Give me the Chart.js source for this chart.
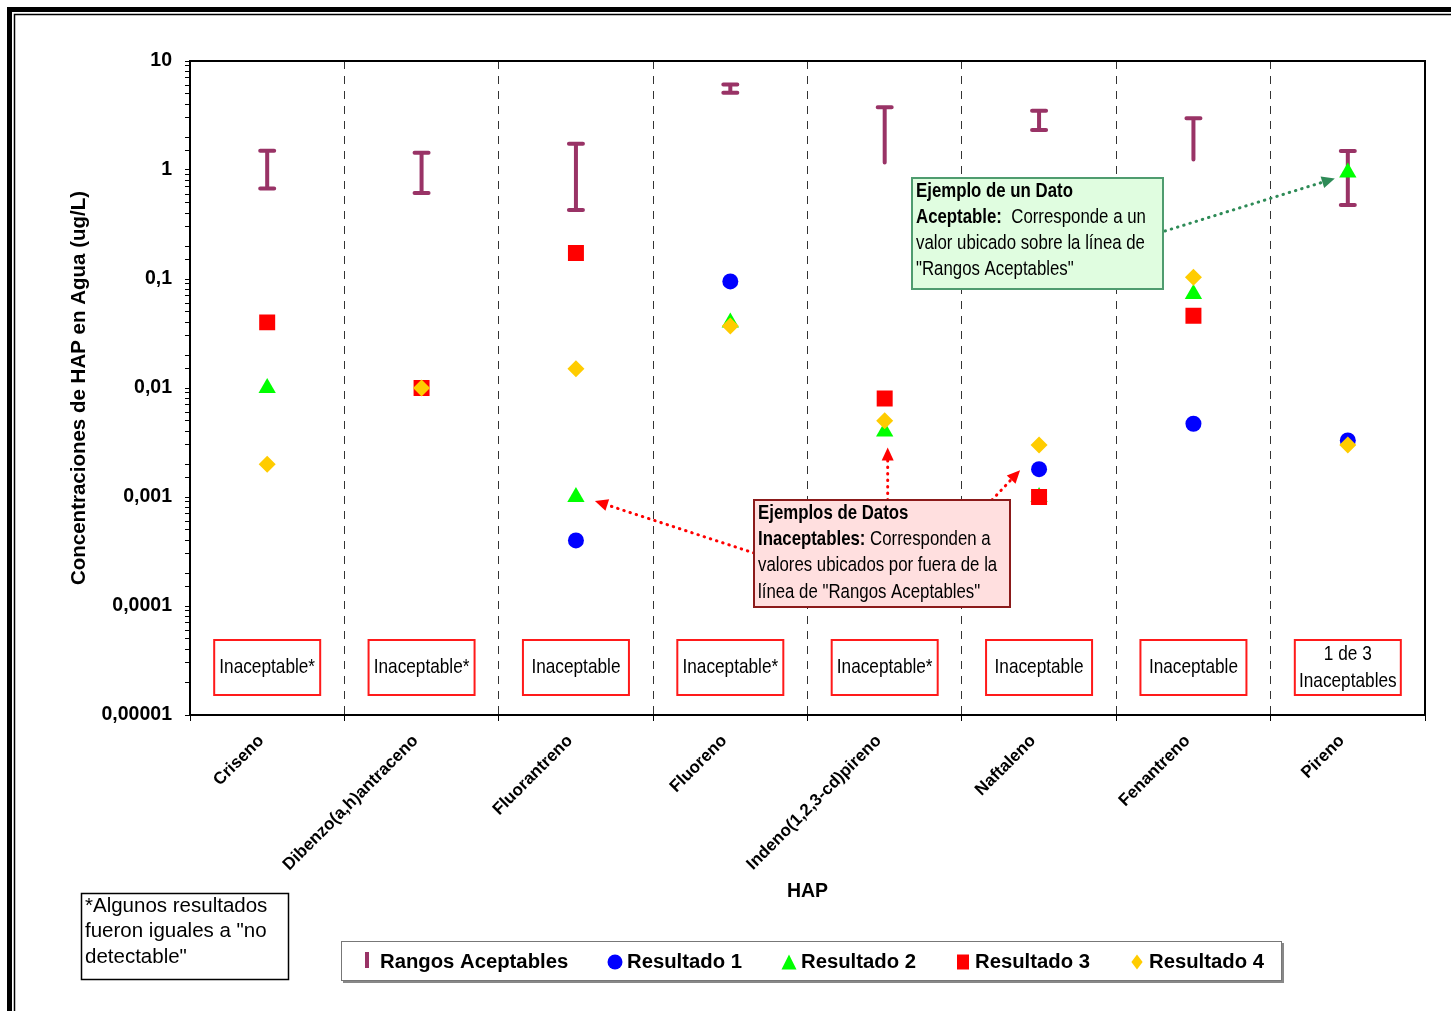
<!DOCTYPE html>
<html>
<head>
<meta charset="utf-8">
<title>Concentraciones de HAP en Agua</title>
<script src="https://cdn.jsdelivr.net/npm/chart.js@4.4.1/dist/chart.umd.min.js"></script>
<style>
    html, body { margin: 0; padding: 0; background: #fff; }
    #grafico { display: block; }
</style>
</head>
<body>
<canvas id="grafico" width="1451" height="1011"></canvas>
<script>
// --- Datos ---
const categorias = ["Criseno", "Dibenzo(a,h)antraceno", "Fluorantreno", "Fluoreno",
    "Indeno(1,2,3-cd)pireno", "Naftaleno", "Fenantreno", "Pireno"];

// Rangos aceptables (límite superior / inferior)
const rangoMax = [1.5, 1.44, 1.74, 6.1, 3.76, 3.5, 2.98, 1.49];
const rangoMin = [0.675, 0.615, 0.43, 5.12, 1.17, 2.33, 1.25, 0.477];

const resultado1 = [null, null, 0.0004, 0.095, null, 0.0018, 0.0047, 0.0033];
const resultado2 = [0.01, null, 0.001, 0.04, 0.004, 0.001, 0.073, 0.95];
const resultado3 = [0.04, 0.01, 0.173, null, 0.008, 0.001, 0.046, null];
const resultado4 = [0.002, 0.01, 0.015, 0.037, 0.005, 0.003, 0.104, 0.003];

const decadas = [0.00001, 0.0001, 0.001, 0.01, 0.1, 1, 10];
const etiquetasEje = ["0,00001", "0,0001", "0,001", "0,01", "0,1", "1", "10"];

const evaluaciones = [["Inaceptable*"], ["Inaceptable*"], ["Inaceptable"], ["Inaceptable*"],
    ["Inaceptable*"], ["Inaceptable"], ["Inaceptable"], ["1 de 3", "Inaceptables"]];

const nombreRangos = "Rangos Aceptables";
const tituloY = "Concentraciones de HAP en Agua (ug/L)";
const tituloX = "HAP";
const notaPie = ["*Algunos resultados", "fueron iguales a \"no", "detectable\""];

// barras sin tapa inferior en el original
const sinTapaInferior = ["Indeno(1,2,3-cd)pireno", "Fenantreno"];

const FUENTE = '"Liberation Sans", Arial, sans-serif';
const COLOR_RANGO = "#993366";

// --- Helpers de texto ---
function texto(ctx, txt, x, y, size, bold, align, escala) {
    ctx.save();
    ctx.font = (bold ? "bold " : "") + size + "px " + FUENTE;
    ctx.translate(x, y);
    ctx.scale(escala || 1, 1);
    ctx.textAlign = align || "left";
    ctx.textBaseline = "middle";
    ctx.fillStyle = "#000";
    ctx.fillText(txt, 0, 0);
    const w = ctx.measureText(txt).width * (escala || 1);
    ctx.restore();
    return w;
}

function flecha(ctx, x1, y1, x2, y2, color) {
    const ang = Math.atan2(y2 - y1, x2 - x1);
    const largo = 13;
    ctx.save();
    ctx.strokeStyle = color;
    ctx.fillStyle = color;
    ctx.lineWidth = 3;
    ctx.lineCap = "round";
    ctx.setLineDash([0.5, 6]);
    ctx.beginPath();
    ctx.moveTo(x1, y1);
    ctx.lineTo(x2 - Math.cos(ang) * largo, y2 - Math.sin(ang) * largo);
    ctx.stroke();
    ctx.setLineDash([]);
    ctx.beginPath();
    ctx.moveTo(x2, y2);
    ctx.lineTo(x2 - Math.cos(ang) * largo - Math.sin(ang) * 6, y2 - Math.sin(ang) * largo + Math.cos(ang) * 6);
    ctx.lineTo(x2 - Math.cos(ang) * largo + Math.sin(ang) * 6, y2 - Math.sin(ang) * largo - Math.cos(ang) * 6);
    ctx.closePath();
    ctx.fill();
    ctx.restore();
}

function marcador(ctx, estilo, color, x, y, r) {
    ctx.save();
    ctx.fillStyle = color;
    ctx.beginPath();
    if (estilo === "circle") {
        ctx.arc(x, y, r, 0, Math.PI * 2);
    } else if (estilo === "triangle") {
        ctx.moveTo(x, y - r);
        ctx.lineTo(x + r, y + r);
        ctx.lineTo(x - r, y + r);
    } else if (estilo === "rect") {
        ctx.rect(x - r * 0.8, y - r, r * 1.6, r * 2);
    } else if (estilo === "rectRot") {
        ctx.moveTo(x, y - r);
        ctx.lineTo(x + r * 0.75, y);
        ctx.lineTo(x, y + r);
        ctx.lineTo(x - r * 0.75, y);
    }
    ctx.closePath();
    ctx.fill();
    ctx.restore();
}

// --- Plugin de dibujo ---
const dibujoExtra = {
    id: "dibujoExtra",
    beforeDraw(chart) {
        const ctx = chart.ctx;
        ctx.save();
        ctx.fillStyle = "#fff";
        ctx.fillRect(0, 0, chart.width, chart.height);
        // marco doble exterior
        ctx.strokeStyle = "#000";
        ctx.lineWidth = 5;
        ctx.beginPath();
        ctx.moveTo(9.5, chart.height);
        ctx.lineTo(9.5, 9.5);
        ctx.lineTo(chart.width, 9.5);
        ctx.stroke();
        ctx.lineWidth = 1.5;
        ctx.beginPath();
        ctx.moveTo(14.5, chart.height);
        ctx.lineTo(14.5, 14.5);
        ctx.lineTo(chart.width, 14.5);
        ctx.stroke();
        ctx.restore();
    },
    beforeDatasetsDraw(chart) {
        const ctx = chart.ctx;
        const xs = chart.scales.x, ys = chart.scales.y;
        ctx.save();
        ctx.strokeStyle = COLOR_RANGO;
        ctx.lineWidth = 4;
        ctx.lineCap = "round";
        categorias.forEach((c, i) => {
            const x = xs.getPixelForValue(i);
            const y1 = ys.getPixelForValue(rangoMax[i]);
            const y2 = ys.getPixelForValue(rangoMin[i]);
            ctx.beginPath();
            ctx.moveTo(x, y1);
            ctx.lineTo(x, y2);
            ctx.moveTo(x - 7, y1);
            ctx.lineTo(x + 7, y1);
            if (!sinTapaInferior.includes(c)) {
                ctx.moveTo(x - 7, y2);
                ctx.lineTo(x + 7, y2);
            }
            ctx.stroke();
        });
        ctx.restore();
    },
    afterDraw(chart) {
        const ctx = chart.ctx;
        const a = chart.chartArea;
        const xs = chart.scales.x, ys = chart.scales.y;
        const px = (i) => xs.getPixelForValue(i);
        const py = (v) => ys.getPixelForValue(v);

        // borde superior y derecho del área de trazado
        ctx.save();
        ctx.strokeStyle = "#000";
        ctx.lineWidth = 2;
        ctx.beginPath();
        ctx.moveTo(a.left, a.top);
        ctx.lineTo(a.right, a.top);
        ctx.lineTo(a.right, a.bottom);
        ctx.stroke();
        ctx.restore();

        // títulos de ejes
        ctx.save();
        ctx.translate(79, (a.top + a.bottom) / 2);
        ctx.rotate(-Math.PI / 2);
        texto(ctx, tituloY, 0, 0, 20.5, true, "center");
        ctx.restore();
        texto(ctx, tituloX, (a.left + a.right) / 2, 892, 19.5, true, "center");

        // cuadros "Inaceptable"
        evaluaciones.forEach((lineas, i) => {
            const cx = px(i);
            ctx.save();
            ctx.fillStyle = "#fff";
            ctx.strokeStyle = "#ff1a1a";
            ctx.lineWidth = 2;
            ctx.fillRect(cx - 53, 640, 106, 55);
            ctx.strokeRect(cx - 53, 640, 106, 55);
            ctx.restore();
            if (lineas.length === 1) {
                texto(ctx, lineas[0], cx, 667, 21, false, "center", 0.82);
            } else {
                texto(ctx, lineas[0], cx, 654, 21, false, "center", 0.82);
                texto(ctx, lineas[1], cx, 681, 21, false, "center", 0.82);
            }
        });

        // flechas
        const iPir = categorias.indexOf("Pireno");
        flecha(ctx, 1165, 231, px(iPir) - 13, py(resultado2[iPir]) + 6, "#2e8b57");
        const iFlu = categorias.indexOf("Fluorantreno");
        flecha(ctx, 754, 553, px(iFlu) + 19, py(resultado2[iFlu]) + 4, "#ff0000");
        const iInd = categorias.indexOf("Indeno(1,2,3-cd)pireno");
        flecha(ctx, px(iInd) + 3, 500, px(iInd) + 3, py(resultado2[iInd]) + 16, "#ff0000");
        const iNaf = categorias.indexOf("Naftaleno");
        flecha(ctx, 992, 500, px(iNaf) - 19, py(resultado1[iNaf]) + 1, "#ff0000");

        // cuadro verde
        ctx.save();
        ctx.fillStyle = "#e0fde0";
        ctx.strokeStyle = "#4f9c6f";
        ctx.lineWidth = 2;
        ctx.fillRect(912, 178, 251, 111);
        ctx.strokeRect(912, 178, 251, 111);
        ctx.restore();
        texto(ctx, "Ejemplo de un Dato", 916, 191, 20.5, true, "left", 0.82);
        let w = texto(ctx, "Aceptable:", 916, 217, 20.5, true, "left", 0.82);
        texto(ctx, "  Corresponde a un", 916 + w, 217, 20.5, false, "left", 0.82);
        texto(ctx, "valor ubicado sobre la línea de", 916, 243, 20.5, false, "left", 0.82);
        texto(ctx, "\"Rangos Aceptables\"", 916, 269, 20.5, false, "left", 0.82);

        // cuadro rojo
        ctx.save();
        ctx.fillStyle = "#ffdfdf";
        ctx.strokeStyle = "#8b1a1a";
        ctx.lineWidth = 2;
        ctx.fillRect(754, 500, 256, 107);
        ctx.strokeRect(754, 500, 256, 107);
        ctx.restore();
        texto(ctx, "Ejemplos de Datos", 758, 513, 20.5, true, "left", 0.82);
        w = texto(ctx, "Inaceptables:", 758, 539, 20.5, true, "left", 0.82);
        texto(ctx, " Corresponden a", 758 + w, 539, 20.5, false, "left", 0.82);
        texto(ctx, "valores ubicados por fuera de la", 758, 565, 20.5, false, "left", 0.82);
        texto(ctx, "línea de \"Rangos Aceptables\"", 758, 592, 20.5, false, "left", 0.82);

        // nota al pie
        ctx.save();
        ctx.strokeStyle = "#000";
        ctx.lineWidth = 1.5;
        ctx.strokeRect(81.5, 893.5, 207, 86);
        ctx.restore();
        notaPie.forEach((l, i) => texto(ctx, l, 85, 906 + i * 25.5, 20.5, false, "left"));

        // leyenda
        ctx.save();
        ctx.fillStyle = "#888";
        ctx.fillRect(343, 943, 941, 40);
        ctx.fillStyle = "#fff";
        ctx.strokeStyle = "#777";
        ctx.lineWidth = 1;
        ctx.fillRect(341, 941, 941, 40);
        ctx.strokeRect(341.5, 941.5, 940, 39);
        ctx.restore();
        ctx.save();
        ctx.strokeStyle = COLOR_RANGO;
        ctx.lineWidth = 4;
        ctx.beginPath();
        ctx.moveTo(367, 952);
        ctx.lineTo(367, 968);
        ctx.stroke();
        ctx.restore();
        texto(ctx, nombreRangos, 380, 962, 20.3, true, "left");
        const posLeyenda = [615, 789, 963, 1137];
        chart.data.datasets.forEach((ds, i) => {
            marcador(ctx, ds.pointStyle, ds.backgroundColor, posLeyenda[i], 962, 7.5);
            texto(ctx, ds.label, posLeyenda[i] + 12, 962, 20.3, true, "left");
        });
    }
};

// --- Gráfico ---
const ctx = document.getElementById("grafico").getContext("2d");

new Chart(ctx, {
    type: "line",
    data: {
        labels: categorias,
        datasets: [
            { label: "Resultado 1", data: resultado1, backgroundColor: "#0000ff", borderColor: "#0000ff",
              pointStyle: "circle", pointRadius: 8, pointBorderWidth: 0, showLine: false, order: 4 },
            { label: "Resultado 2", data: resultado2, backgroundColor: "#00ff00", borderColor: "#00ff00",
              pointStyle: "triangle", pointRadius: 10, pointBorderWidth: 0, showLine: false, order: 3 },
            { label: "Resultado 3", data: resultado3, backgroundColor: "#ff0000", borderColor: "#ff0000",
              pointStyle: "rect", pointRadius: 11.3, pointBorderWidth: 0, showLine: false, order: 2 },
            { label: "Resultado 4", data: resultado4, backgroundColor: "#ffcc00", borderColor: "#ffcc00",
              pointStyle: "rectRot", pointRadius: 8.5, pointBorderWidth: 0, showLine: false, order: 1 }
        ]
    },
    options: {
        responsive: false,
        animation: false,
        layout: { padding: { top: 61, right: 26, left: 0, bottom: 0 } },
        plugins: {
            legend: { display: false },
            tooltip: { enabled: false }
        },
        scales: {
            x: {
                type: "category",
                offset: true,
                grid: { offset: true, color: "#333", lineWidth: 1, drawTicks: true, tickLength: 6, tickColor: "#000" },
                border: { display: true, color: "#000", width: 2, dash: [8, 7] },
                ticks: {
                    maxRotation: 45, minRotation: 45, padding: 10, labelOffset: -6, color: "#000",
                    font: { family: FUENTE, size: 17, weight: "bold" }
                },
                afterFit: (s) => { s.height = 296; }
            },
            y: {
                type: "logarithmic",
                min: 0.00001,
                max: 10,
                grid: { drawOnChartArea: false, drawTicks: true, tickLength: 5, color: "#000" },
                border: { display: true, color: "#000", width: 2 },
                ticks: {
                    autoSkip: false, padding: 13, color: "#000",
                    font: { family: FUENTE, size: 19.5, weight: "bold" },
                    callback: (v) => {
                        const k = decadas.findIndex(d => Math.abs(v / d - 1) < 1e-6);
                        return k >= 0 ? etiquetasEje[k] : "";
                    }
                },
                afterFit: (s) => { s.width = 190; }
            }
        }
    },
    plugins: [dibujoExtra]
});
</script>
</body>
</html>
